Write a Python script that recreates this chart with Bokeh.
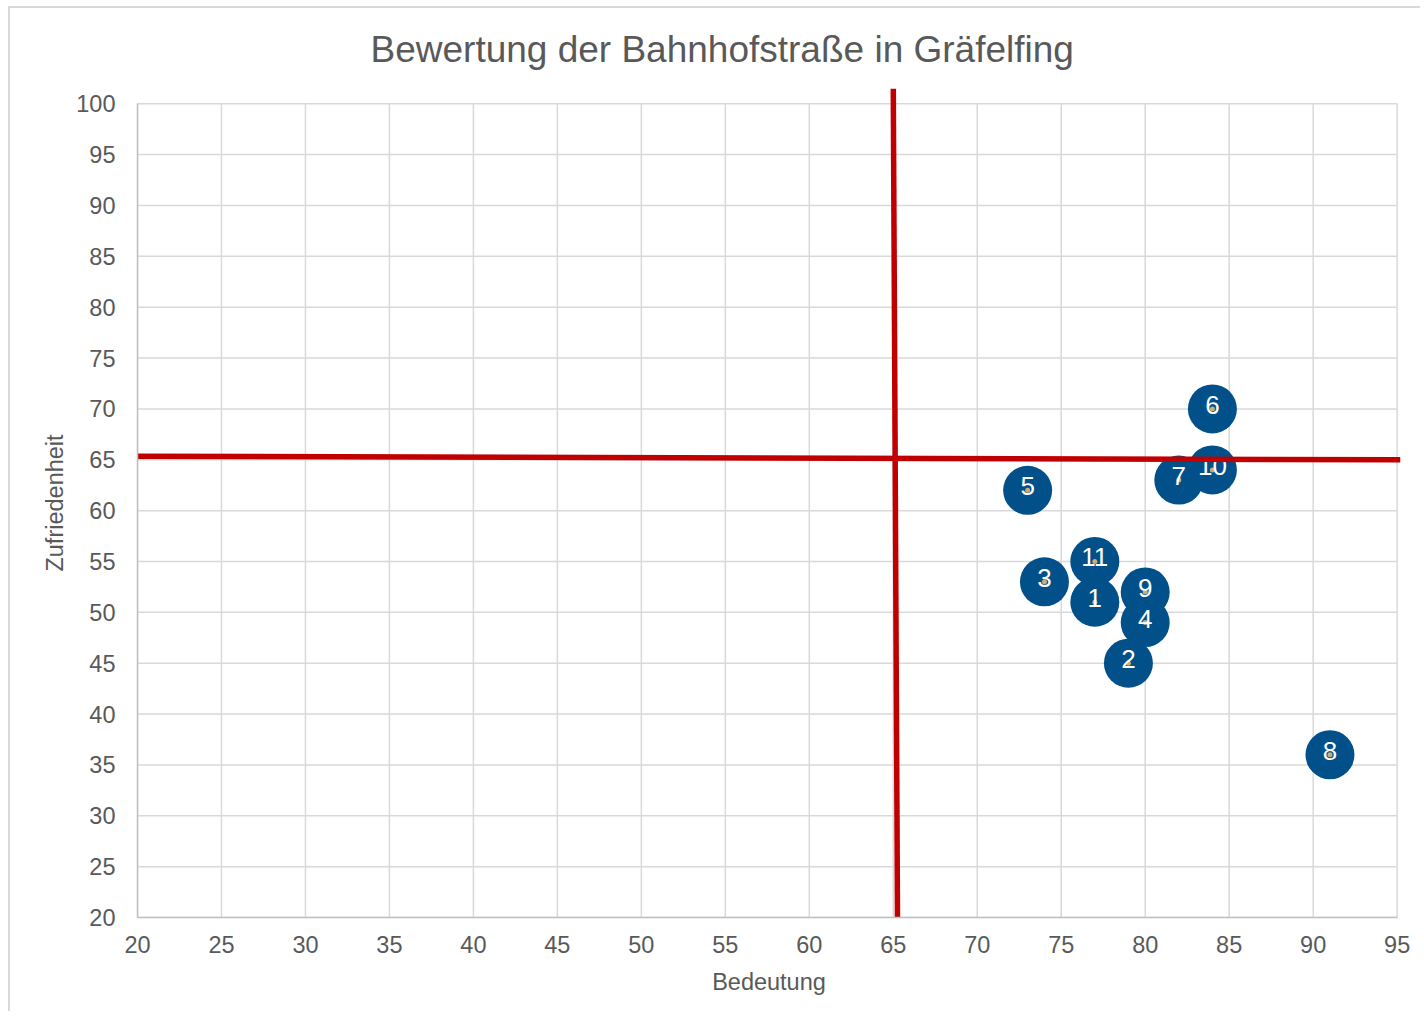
from bokeh.plotting import figure
from bokeh.models import Title, Range1d, FixedTicker, ColumnDataSource
from bokeh.core.properties import value
from bokeh.embed import file_html
from bokeh.resources import INLINE

# ---- data ----
labels = ["1", "2", "3", "4", "5", "6", "7", "8", "9", "10", "11"]
bedeutung = [77, 79, 74, 80, 73, 84, 82, 91, 80, 84, 77]
zufriedenheit = [51, 45, 53, 49, 62, 70, 63, 36, 52, 64, 55]

x_ticks = list(range(20, 100, 5))
y_ticks = list(range(20, 105, 5))

vline_x = [65.0, 65.25]
vline_y = [101.5, 20.0]
hline_x = [20.0, 95.2]
hline_y = [65.35, 65.0]

FONT = "Liberation Sans"
GRAY = "#595959"

p = figure(width=1412, height=1005,
           x_range=Range1d(20, 95.2), y_range=Range1d(20, 101.5),
           output_backend="svg", toolbar_location=None,
           min_border_left=127, min_border_right=22,
           min_border_top=80, min_border_bottom=96)
p.outline_line_color = None
p.xgrid.visible = False
p.ygrid.visible = False
p.styles = {"border-left": "2px solid #d9d9d9", "border-top": "2px solid #d9d9d9",
            "margin-left": "8px", "margin-top": "6px"}

title = Title(text="Bewertung der Bahnhofstraße in Gräfelfing", align="left",
              offset=233, text_font=FONT, text_font_size="37px",
              text_font_style="normal", text_color=GRAY, standoff=37)
p.add_layout(title, "above")

# grid lines from tick arrays
p.segment(x0=[x_ticks[0]] * len(y_ticks), x1=[x_ticks[-1]] * len(y_ticks),
          y0=y_ticks, y1=y_ticks, line_color="#d9d9d9", line_width=1.5)
p.segment(x0=x_ticks, x1=x_ticks, y0=[y_ticks[0]] * len(x_ticks),
          y1=[y_ticks[-1]] * len(x_ticks), line_color="#d9d9d9", line_width=1.5)

for ax, ticks, lab in ((p.xaxis[0], x_ticks, "Bedeutung"), (p.yaxis[0], y_ticks, "Zufriedenheit")):
    ax.ticker = FixedTicker(ticks=ticks)
    ax.bounds = (ticks[0], ticks[-1])
    ax.axis_label = lab
    ax.axis_line_color = "#bfbfbf"
    ax.axis_line_width = 1.5
    ax.major_tick_line_color = None
    ax.minor_tick_line_color = None
    ax.major_tick_in = 0
    ax.major_tick_out = 0
    ax.major_label_text_font = FONT
    ax.major_label_text_font_size = "23.5px"
    ax.major_label_text_color = GRAY
    ax.axis_label_text_font = FONT
    ax.axis_label_text_font_size = "23.5px"
    ax.axis_label_text_font_style = "normal"
    ax.axis_label_text_color = GRAY

p.yaxis.major_label_standoff = 22
p.xaxis.major_label_standoff = 18
p.yaxis.axis_label_standoff = 5
p.xaxis.axis_label_standoff = 13

src = ColumnDataSource(dict(x=bedeutung, y=zufriedenheit, t=labels))
p.scatter("x", "y", source=src, size=49, fill_color="#02508A", line_color=None)
p.scatter("x", "y", source=src, size=5, fill_color="#C8AE78", line_color=None)
p.text("x", "y", text="t", source=src, text_align="center", text_baseline="middle",
       y_offset=-4, text_color="white", text_font=value(FONT), text_font_size="26px")

p.line(vline_x, vline_y, line_color="#C00000", line_width=5.5)
p.line(hline_x, hline_y, line_color="#C00000", line_width=5.5)

open("out.html", "w").write(file_html(p, INLINE))
